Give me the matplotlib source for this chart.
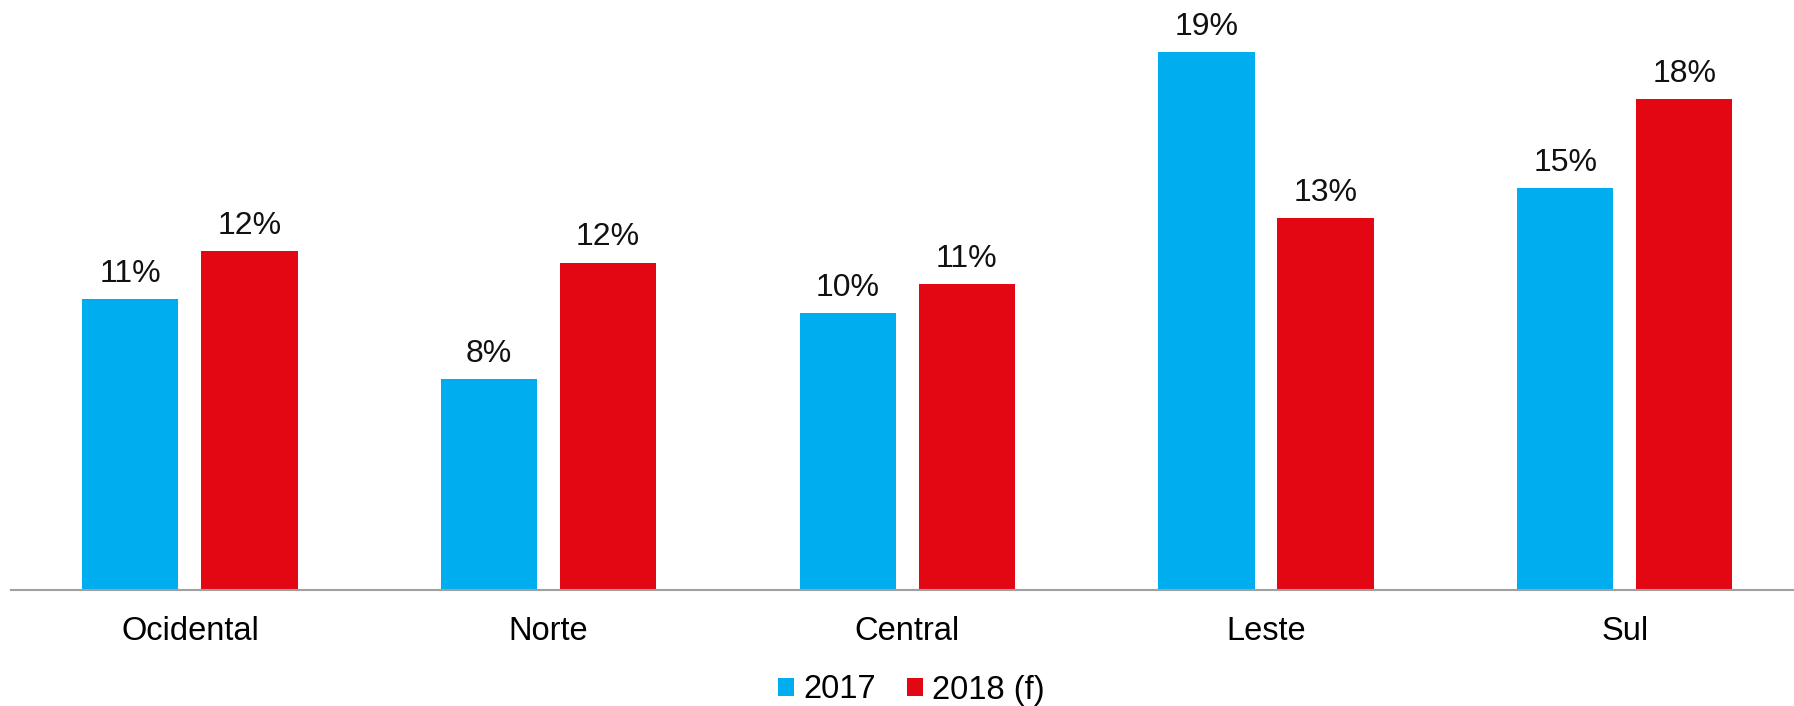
import numpy as np
import matplotlib.pyplot as plt

plt.rcParams['font.family'] = ['Liberation Sans', 'DejaVu Sans']

# data
regions = ['Ocidental', 'Norte', 'Central', 'Leste', 'Sul']
vals_2017 = [10.52, 7.62, 10.02, 19.46, 14.53]
vals_2018 = [12.26, 11.84, 11.06, 13.46, 17.76]
labels_2017 = ['11%', '8%', '10%', '19%', '15%']
labels_2018 = ['12%', '12%', '11%', '13%', '18%']

blue = '#00AEEF'
red = '#E30613'

fig = plt.figure(figsize=(17.94, 7.06), dpi=100)
ax = fig.add_axes([10.6/1794, 116/706, 1 - 10.6/1794, 1 - 116/706])

x = np.arange(len(regions))
w = 0.268
off = 0.166
b1 = ax.bar(x - off, vals_2017, w, color=blue, label='2017')
b2 = ax.bar(x + off, vals_2018, w, color=red, label='2018 (f)')

for bars, labs in [(b1, labels_2017), (b2, labels_2018)]:
    for rect, lab in zip(bars, labs):
        ax.annotate(lab, (rect.get_x() + rect.get_width()/2, rect.get_height()),
                    xytext=(0, 12.5), textcoords='offset points',
                    ha='center', va='baseline', fontsize=23, color='#111111')

ax.set_xlim(-0.5, 4.472)
ax.set_ylim(0, 21.35)
ax.set_xticks(x)
ax.set_xticklabels(regions, fontsize=23.5)
ax.tick_params(axis='x', length=0, pad=19)
ax.set_yticks([])
for s in ['top', 'right', 'left']:
    ax.spines[s].set_visible(False)
ax.spines['bottom'].set_color('#A0A0A0')
ax.spines['bottom'].set_linewidth(1.5)

fig.legend(loc='center', bbox_to_anchor=(911.5/1794, 16/706), ncol=2,
           frameon=False, fontsize=23.5, handlelength=0.49, handleheight=0.49,
           handletextpad=0.3, columnspacing=0.92, borderaxespad=0)

fig.savefig('out.png', dpi=100)
